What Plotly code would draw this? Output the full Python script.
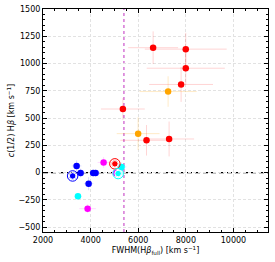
import plotly.graph_objects as go

# --- data ---
red_x = [5354, 6625, 7996, 7996, 7800, 6348, 7296, 5019]
red_y = [583, 1145, 1132, 957, 808, 296, 308, 80]
red_ex = [920, 1050, 1720, 1640, 1340, 1100, 1050, 150]
red_ey = [100, 150, 150, 150, 160, 140, 160, 40]

orange_x = [7254, 5996]
orange_y = [743, 357]
orange_ex = [1200, 900]
orange_ey = [140, 150]

blue_x = [3245, 3413, 3580, 3916, 4109, 4209]
blue_y = [-31, 61, -4, -102, -4, -4]
blue_ex = [150, 200, 200, 200, 150, 150]
blue_ey = [30, 50, 40, 60, 30, 30]

magenta_x = [3874, 4545, 5061]
magenta_y = [-331, 93, -4]
magenta_ex = [350, 250, 150]
magenta_ey = [40, 50, 30]

cyan_x = [3468, 5157, 5300]
cyan_y = [-217, -9, 52]
cyan_ex = [150, 200, 200]
cyan_ey = [30, 40, 40]

ring_x = [3245, 5019, 5157]
ring_y = [-31, 80, -9]
ring_colors = ["blue", "red", "cyan"]

x_ticks = [2000, 4000, 6000, 8000, 10000]
x_ticklabels = ["2000", "4000", "6000", "8000", "10000"]
y_ticks = [-500, -250, 0, 250, 500, 750, 1000, 1250, 1500]
y_ticklabels = ["−500", "−250", "0", "250", "500", "750", "1000", "1250", "1500"]

vline_x = 5400

groups = [
    (red_x, red_y, red_ex, red_ey, "#ff0000", "rgba(255,0,0,0.17)"),
    (orange_x, orange_y, orange_ex, orange_ey, "#ffa500", "rgba(255,165,0,0.22)"),
    (blue_x, blue_y, blue_ex, blue_ey, "#0000ff", "rgba(0,0,255,0.15)"),
    (magenta_x, magenta_y, magenta_ex, magenta_ey, "#ff00ff", "rgba(255,0,255,0.15)"),
    (cyan_x, cyan_y, cyan_ex, cyan_ey, "#00ffff", "rgba(0,200,255,0.2)"),
]

fig = go.Figure()

for xs, ys, ex, ey, col, ecol in groups:
    fig.add_trace(go.Scatter(
        x=xs, y=ys, mode="markers",
        error_x=dict(type="data", array=ex, color=ecol, thickness=1, width=0),
        error_y=dict(type="data", array=ey, color=ecol, thickness=1, width=0),
        marker=dict(color=col, size=6.5, line=dict(width=0)),
        showlegend=False,
    ))

# ringed markers
fig.add_trace(go.Scatter(
    x=ring_x, y=ring_y, mode="markers",
    marker=dict(size=10.5, color="rgba(0,0,0,0)", line=dict(color=ring_colors, width=1)),
    showlegend=False,
))
fig.add_trace(go.Scatter(
    x=ring_x, y=ring_y, mode="markers",
    marker=dict(size=6.5, color=ring_colors, line=dict(color="white", width=1)),
    showlegend=False,
))

fig.add_shape(type="line", xref="paper", x0=0, x1=1, yref="y", y0=0, y1=0,
              line=dict(color="black", width=1.3, dash="5px,3px"), layer="between")
fig.add_shape(type="line", xref="x", x0=vline_x, x1=vline_x, yref="paper", y0=0, y1=1,
              line=dict(color="#c030c0", width=1, dash="dot"), layer="between")

axis_common = dict(
    showline=True, linecolor="black", linewidth=1, mirror="allticks",
    ticks="inside", ticklen=4, tickcolor="black",
    showgrid=True, gridcolor="#e2e2e2", griddash="3px,2px", gridwidth=0.8,
    zeroline=False, automargin=False,
    tickfont=dict(family="DejaVu Sans", size=8, color="black"),
)

fig.update_layout(
    width=275, height=262,
    margin=dict(l=43, r=7, t=9, b=30),
    plot_bgcolor="white", paper_bgcolor="white",
    font=dict(family="DejaVu Sans", size=8, color="black"),
    xaxis=dict(
        range=[2000, 11450], tickvals=x_ticks, ticktext=x_ticklabels,
        title=dict(text="FWHM(H<i>β</i><sub>full</sub>) [km s<sup>−1</sup>]", standoff=3,
                   font=dict(size=8)),
        minor=dict(ticks="inside", ticklen=2, tickcolor="black", dtick=500, showgrid=False),
        **axis_common,
    ),
    yaxis=dict(
        range=[-545, 1500], tickvals=y_ticks, ticktext=y_ticklabels,
        title=dict(text="<i>c</i>(1/2) H<i>β</i> [km s<sup>−1</sup>]", standoff=2,
                   font=dict(size=8)),
        minor=dict(ticks="inside", ticklen=2, tickcolor="black", dtick=50, showgrid=False),
        **axis_common,
    ),
)

fig.write_html("out.html", config={"displayModeBar": False},
               post_script="document.body.style.margin='0';")
